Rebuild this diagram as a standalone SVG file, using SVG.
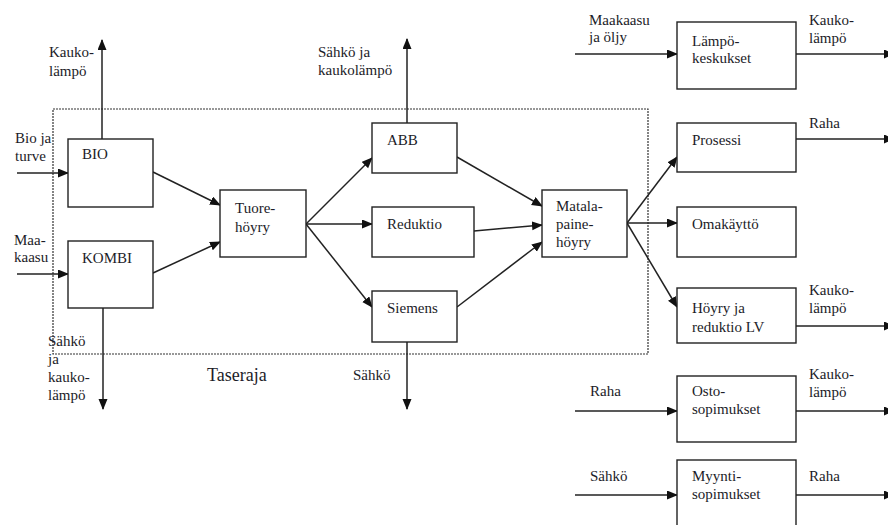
<svg xmlns="http://www.w3.org/2000/svg" width="888" height="525" viewBox="0 0 888 525" font-family="'Liberation Serif', 'Times New Roman', 'DejaVu Serif', serif">
<style>
.box{fill:#fff;stroke:#222;stroke-width:1.4}
text{font-family:'Liberation Serif','Times New Roman','DejaVu Serif',serif;font-size:15px;fill:#1c1c28}
.big{font-size:18px}
.c{stroke:#222;stroke-width:1.5;fill:none;marker-end:url(#ah)}
.border{fill:none;stroke:#333;stroke-width:1.2;stroke-dasharray:2 1}
</style>
<defs>
<marker id="ah" markerUnits="userSpaceOnUse" markerWidth="11" markerHeight="10" refX="10" refY="4.5" orient="auto">
<path d="M0,0 L11,4.5 L0,9 z" fill="#111"/>
</marker>
</defs>
<rect width="888" height="525" fill="#fff"/>
<rect class="border" x="53" y="109" width="595" height="245"/>
<text class="big" x="207" y="381">Taseraja</text>

<g id="connectors">
<line class="c" x1="17" y1="173" x2="68" y2="173"/>
<line class="c" x1="102" y1="139" x2="102" y2="40"/>
<line class="c" x1="17" y1="274" x2="68" y2="274"/>
<line class="c" x1="103" y1="308" x2="103" y2="409"/>
<line class="c" x1="153" y1="172" x2="220" y2="205"/>
<line class="c" x1="153" y1="273" x2="220" y2="242"/>
<line class="c" x1="306" y1="224" x2="372" y2="158"/>
<line class="c" x1="306" y1="224" x2="372" y2="224"/>
<line class="c" x1="306" y1="224" x2="372" y2="307"/>
<line class="c" x1="407" y1="123" x2="407" y2="39"/>
<line class="c" x1="407" y1="342" x2="407" y2="409"/>
<line class="c" x1="457" y1="157" x2="542" y2="206"/>
<line class="c" x1="474" y1="231" x2="542" y2="225"/>
<line class="c" x1="457" y1="307" x2="542" y2="242"/>
<line class="c" x1="627" y1="223" x2="677" y2="157"/>
<line class="c" x1="627" y1="223" x2="677" y2="223"/>
<line class="c" x1="627" y1="223" x2="677" y2="307"/>
<line class="c" x1="575" y1="54" x2="677" y2="54"/>
<line class="c" x1="796" y1="54" x2="894" y2="54"/>
<line class="c" x1="796" y1="139" x2="894" y2="139"/>
<line class="c" x1="796" y1="326" x2="894" y2="326"/>
<line class="c" x1="575" y1="411" x2="677" y2="411"/>
<line class="c" x1="796" y1="411" x2="894" y2="411"/>
<line class="c" x1="575" y1="495" x2="677" y2="495"/>
<line class="c" x1="796" y1="495" x2="894" y2="495"/>
</g>

<g id="labels">
<text x="49" y="57">Kauko-</text>
<text x="49" y="76">lämpö</text>
<text x="15" y="143">Bio ja</text>
<text x="15" y="161">turve</text>
<text x="14" y="245">Maa-</text>
<text x="14" y="262">kaasu</text>
<text x="48" y="346">Sähkö</text>
<text x="48" y="364">ja</text>
<text x="48" y="382">kauko-</text>
<text x="48" y="400">lämpö</text>
<text x="318" y="57">Sähkö ja</text>
<text x="318" y="75">kaukolämpö</text>
<text x="353" y="380">Sähkö</text>
<text x="589" y="25">Maakaasu</text>
<text x="589" y="42">ja öljy</text>
<text x="809" y="25">Kauko-</text>
<text x="809" y="43">lämpö</text>
<text x="809" y="128">Raha</text>
<text x="809" y="295">Kauko-</text>
<text x="809" y="313">lämpö</text>
<text x="590" y="396">Raha</text>
<text x="809" y="379">Kauko-</text>
<text x="809" y="397">lämpö</text>
<text x="590" y="481">Sähkö</text>
<text x="809" y="481">Raha</text>
</g>

<g id="BIO"><rect class="box" x="68" y="139" width="85" height="68"/><text x="82" y="159">BIO</text></g>
<g id="KOMBI"><rect class="box" x="68" y="241" width="85" height="67"/><text x="82" y="263">KOMBI</text></g>
<g id="Tuorehoyry"><rect class="box" x="220" y="190" width="86" height="67"/><text x="235" y="213">Tuore-</text><text x="235" y="232">höyry</text></g>
<g id="ABB"><rect class="box" x="372" y="123" width="85" height="50"/><text x="387" y="145">ABB</text></g>
<g id="Reduktio"><rect class="box" x="372" y="207" width="102" height="50"/><text x="387" y="229">Reduktio</text></g>
<g id="Siemens"><rect class="box" x="372" y="291" width="85" height="51"/><text x="387" y="313">Siemens</text></g>
<g id="Matalapainehoyry"><rect class="box" x="542" y="190" width="85" height="67"/><text x="556" y="211">Matala-</text><text x="556" y="229">paine-</text><text x="556" y="247">höyry</text></g>
<g id="Lampokeskukset"><rect class="box" x="677" y="22" width="119" height="67"/><text x="692" y="46">Lämpö-</text><text x="692" y="63">keskukset</text></g>
<g id="Prosessi"><rect class="box" x="677" y="123" width="119" height="49"/><text x="692" y="145">Prosessi</text></g>
<g id="Omakaytto"><rect class="box" x="677" y="207" width="119" height="50"/><text x="692" y="229">Omakäyttö</text></g>
<g id="HoyryLV"><rect class="box" x="677" y="288" width="119" height="55"/><text x="692" y="313">Höyry ja</text><text x="692" y="332">reduktio LV</text></g>
<g id="Ostosopimukset"><rect class="box" x="677" y="376" width="119" height="66"/><text x="692" y="396">Osto-</text><text x="692" y="414">sopimukset</text></g>
<g id="Myyntisopimukset"><rect class="box" x="677" y="460" width="119" height="70"/><text x="692" y="481">Myynti-</text><text x="692" y="499">sopimukset</text></g>
</svg>
